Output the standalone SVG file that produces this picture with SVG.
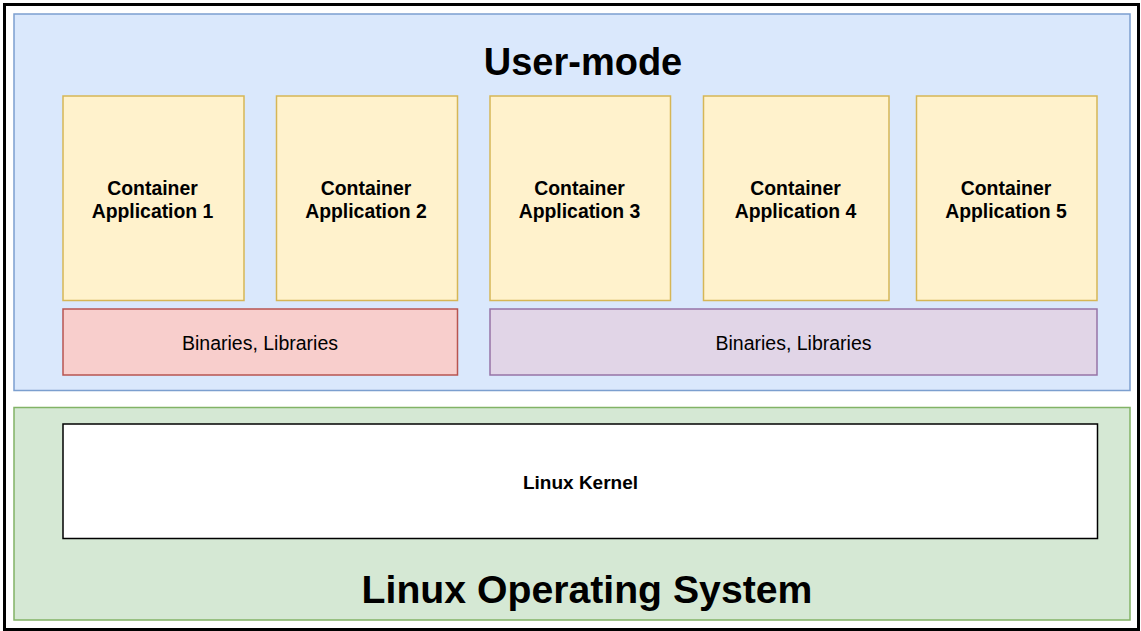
<svg xmlns="http://www.w3.org/2000/svg" width="1141" height="631" viewBox="0 0 1141 631">
<style>
.t{font-family:"Liberation Sans",Arial,sans-serif;fill:#000;text-anchor:middle}
.b{font-weight:bold}
.app{fill:#fff2cc;stroke:#d6b656;stroke-width:1.5}
</style>
<rect x="0" y="0" width="1141" height="631" fill="#ffffff"/>
<g id="frame"><rect x="4.5" y="4.5" width="1134" height="625" fill="#ffffff" stroke="#000" stroke-width="3"/></g>
<g id="user-mode">
<rect x="14" y="14" width="1116" height="376.5" fill="#dae8fc" stroke="#7c9fcf" stroke-width="1.5"/>
<text class="t b" x="583" y="75" font-size="38">User-mode</text>
</g>
<g id="os">
<rect x="14" y="407.5" width="1116" height="212.5" fill="#d5e8d4" stroke="#82b366" stroke-width="1.5"/>
<text class="t b" x="587" y="603" font-size="39.2">Linux Operating System</text>
</g>
<g id="app1"><rect class="app" x="63" y="96" width="181" height="204.5"/><text class="t b" font-size="19.4" x="152.5" y="195">Container</text><text class="t b" font-size="19.4" x="152.5" y="218">Application 1</text></g>
<g id="app2"><rect class="app" x="276.5" y="96" width="181" height="204.5"/><text class="t b" font-size="19.4" x="366" y="195">Container</text><text class="t b" font-size="19.4" x="366" y="218">Application 2</text></g>
<g id="app3"><rect class="app" x="490" y="96" width="180.5" height="204.5"/><text class="t b" font-size="19.4" x="579.5" y="195">Container</text><text class="t b" font-size="19.4" x="579.5" y="218">Application 3</text></g>
<g id="app4"><rect class="app" x="703.5" y="96" width="185.5" height="204.5"/><text class="t b" font-size="19.4" x="795.5" y="195">Container</text><text class="t b" font-size="19.4" x="795.5" y="218">Application 4</text></g>
<g id="app5"><rect class="app" x="916.5" y="96" width="180.5" height="204.5"/><text class="t b" font-size="19.4" x="1006" y="195">Container</text><text class="t b" font-size="19.4" x="1006" y="218">Application 5</text></g>
<g id="bins1"><rect x="63" y="309" width="394.5" height="66" fill="#f8cecc" stroke="#b85450" stroke-width="1.5"/><text class="t" font-size="19.5" x="260" y="349.5">Binaries, Libraries</text></g>
<g id="bins2"><rect x="490" y="309" width="607" height="66" fill="#e1d5e7" stroke="#9673a6" stroke-width="1.5"/><text class="t" font-size="19.5" x="793.5" y="349.5">Binaries, Libraries</text></g>
<g id="kernel"><rect x="63" y="424" width="1034.5" height="114.5" fill="#ffffff" stroke="#000" stroke-width="1.5"/><text class="t b" font-size="19" x="580.5" y="488.5">Linux Kernel</text></g>
<g id="connectors"></g>
</svg>
